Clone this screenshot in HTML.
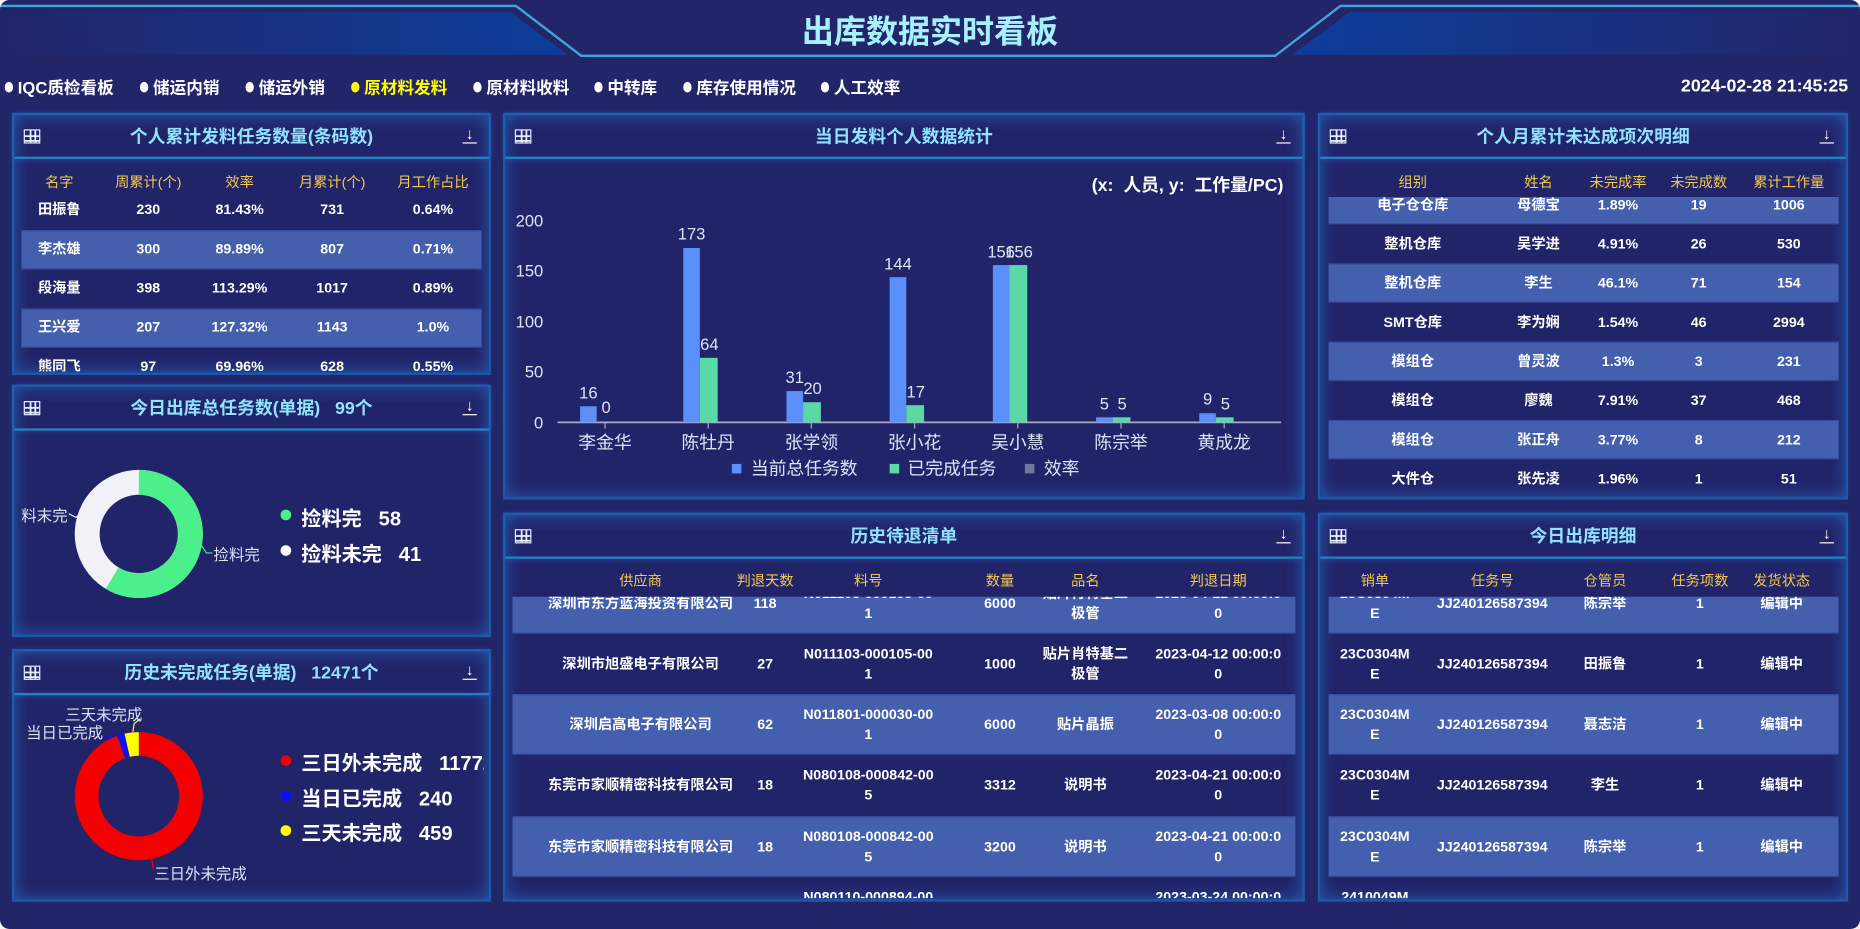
<!DOCTYPE html>
<html><head><meta charset="utf-8">
<style>
*{margin:0;padding:0;box-sizing:border-box}
html,body{width:1860px;height:929px;overflow:hidden;background:#f4f4f8}
body{font-family:"Liberation Sans","Noto Sans CJK SC",sans-serif}
#s{position:absolute;left:0;top:0;width:1568px;height:783px;transform:scale(1.18622,1.1865);transform-origin:0 0;background:#232569;border-radius:8px;overflow:hidden}
.a{position:absolute}
.p{position:absolute;border:2px solid #1b5aa8;box-shadow:inset 0 0 14px rgba(40,140,235,.55);background:#222469}
.ph{position:absolute;left:0;right:0;top:0;height:37px;border-bottom:2px solid #2380c4;box-shadow:0 0 6px rgba(40,140,235,.4);color:#8fe3ff;font-size:15px;font-weight:bold;text-align:center;line-height:37px}
.gi{position:absolute;left:8px;top:12px;width:14px;height:12px;border:1.5px solid #e8f0ff;background:linear-gradient(#e8f0ff,#e8f0ff) 0 4px/100% 1.5px no-repeat,linear-gradient(#e8f0ff,#e8f0ff) 0 7.5px/100% 1.5px no-repeat,linear-gradient(#e8f0ff,#e8f0ff) 4px 0/1.5px 100% no-repeat,linear-gradient(#e8f0ff,#e8f0ff) 8px 0/1.5px 100% no-repeat}
.dl{position:absolute;right:10px;top:10px;width:12px;height:14px;color:#fff;font-size:13px;line-height:12px;text-align:center;border-bottom:1.5px solid #fff}
.c{position:absolute;transform:translate(-50%,-50%);text-align:center;white-space:nowrap;color:#fff;font-weight:bold;font-size:12px;line-height:17px}
.y{color:#f2c94c;font-weight:normal}
.st{position:absolute;background:#445fad;border-top:1px solid #3a4b9c;border-bottom:1px solid #3a4b9c}
.nav{position:absolute;top:64px;color:#fff;font-size:14px;font-weight:bold;white-space:nowrap}
.nav b{display:inline-block;width:7px;height:9px;border-radius:50%;background:#fff;margin-right:4px;vertical-align:1px}
.t{position:absolute;color:#dde3f5;font-size:14px;white-space:nowrap}
</style></head><body>
<div id="s">
<svg class="a" style="left:0;top:0" width="1568" height="60">
<defs>
<linearGradient id="g1" x1="0" x2="1"><stop offset="0" stop-color="#232569"/><stop offset="1" stop-color="#0c3e9a"/></linearGradient>
<linearGradient id="g2" x1="1" x2="0"><stop offset="0" stop-color="#232569"/><stop offset="1" stop-color="#0c3e9a"/></linearGradient>
</defs>
<polygon points="0,10 430,10 478,46 0,46" fill="url(#g1)"/>
<polygon points="1568,10 1138,10 1090,46 1568,46" fill="url(#g2)"/>
<polyline points="0,5 435,5 490,47 1075,47 1130,5 1568,5" fill="none" stroke="#3fa6d8" stroke-width="2"/>
</svg>
<div class="a" style="left:0;width:1568px;top:8px;text-align:center;color:#a6f0ff;font-size:27px;font-weight:bold;line-height:38px">出库数据实时看板</div>
<div class="nav" style="left:4px"><b></b>IQC质检看板</div>
<div class="nav" style="left:118px"><b></b>储运内销</div>
<div class="nav" style="left:207px"><b></b>储运外销</div>
<div class="nav" style="left:296px;color:#ffff00"><b style="background:#ff0"></b>原材料发料</div>
<div class="nav" style="left:399px"><b></b>原材料收料</div>
<div class="nav" style="left:501px"><b></b>中转库</div>
<div class="nav" style="left:576px"><b></b>库存使用情况</div>
<div class="nav" style="left:692px"><b></b>人工效率</div>
<div class="nav" style="right:10px;font-size:15px">2024-02-28 21:45:25</div>

<div class="p" style="left:10px;top:95px;width:404px;height:221px"><div class="ph">个人累计发料任务数量(条码数)</div><div class="gi"></div><div class="dl">↓</div></div>
<div class="a" style="left:0;top:0;width:1568px;height:783px;clip-path:inset(140px 1150px 470px 18px)">
<div class="c y" style="left:50px;top:154px">名字</div><div class="c y" style="left:125px;top:154px">周累计(个)</div><div class="c y" style="left:202px;top:154px">效率</div><div class="c y" style="left:280px;top:154px">月累计(个)</div><div class="c y" style="left:365px;top:154px">月工作占比</div>
<div class="st" style="left:18px;width:388px;top:194px;height:33px"></div>
<div class="st" style="left:18px;width:388px;top:260px;height:33px"></div>
<div class="c" style="left:50px;top:177px">田振鲁</div><div class="c" style="left:125px;top:177px">230</div><div class="c" style="left:202px;top:177px">81.43%</div><div class="c" style="left:280px;top:177px">731</div><div class="c" style="left:365px;top:177px">0.64%</div>
<div class="c" style="left:50px;top:210px">李杰雄</div><div class="c" style="left:125px;top:210px">300</div><div class="c" style="left:202px;top:210px">89.89%</div><div class="c" style="left:280px;top:210px">807</div><div class="c" style="left:365px;top:210px">0.71%</div>
<div class="c" style="left:50px;top:243px">段海量</div><div class="c" style="left:125px;top:243px">398</div><div class="c" style="left:202px;top:243px">113.29%</div><div class="c" style="left:280px;top:243px">1017</div><div class="c" style="left:365px;top:243px">0.89%</div>
<div class="c" style="left:50px;top:276px">王兴爱</div><div class="c" style="left:125px;top:276px">207</div><div class="c" style="left:202px;top:276px">127.32%</div><div class="c" style="left:280px;top:276px">1143</div><div class="c" style="left:365px;top:276px">1.0%</div>
<div class="c" style="left:50px;top:309px">熊同飞</div><div class="c" style="left:125px;top:309px">97</div><div class="c" style="left:202px;top:309px">69.96%</div><div class="c" style="left:280px;top:309px">628</div><div class="c" style="left:365px;top:309px">0.55%</div>
</div>

<div class="p" style="left:10px;top:324px;width:404px;height:213px"><div class="ph">今日出库总任务数(单据)&nbsp;&nbsp;&nbsp;99个</div><div class="gi"></div><div class="dl">↓</div></div>
<div class="p" style="left:10px;top:547px;width:404px;height:213px"><div class="ph">历史未完成任务(单据)&nbsp;&nbsp;&nbsp;12471个</div><div class="gi"></div><div class="dl">↓</div></div>
<svg class="a" style="left:0;top:0" width="420" height="783">
<g transform="translate(117,450) rotate(-90)">
<circle r="43.5" fill="none" stroke="#f1f1f8" stroke-width="21"/>
<circle r="43.5" fill="none" stroke="#4cf08a" stroke-width="21" stroke-dasharray="160.1 300"/>
</g>
<polyline points="58,433 64,436 68,433" fill="none" stroke="#f1f1f8" stroke-width="1"/>
<polyline points="170,460 174,466 179,466" fill="none" stroke="#4cf08a" stroke-width="1"/>
<g transform="translate(117,671) rotate(-90)">
<circle r="44" fill="none" stroke="#f50000" stroke-width="20" stroke-dasharray="261 300"/>
<circle r="44" fill="none" stroke="#0a10f0" stroke-width="20" stroke-dasharray="0 261 5.3 300"/>
<circle r="44" fill="none" stroke="#ffff00" stroke-width="20" stroke-dasharray="0 266.3 10.2 300"/>
</g>
<polyline points="86,622 96,620 104,616" fill="none" stroke="#0a10f0" stroke-width="1"/>
<polyline points="112,617 113,610 118,606" fill="none" stroke="#ffff00" stroke-width="1"/>
<polyline points="128,723 129,732" fill="none" stroke="#f50000" stroke-width="1"/>
<circle cx="241" cy="434" r="4.5" fill="#4cf08a"/><circle cx="241" cy="464" r="4.5" fill="#fff"/>
<circle cx="241" cy="641" r="4.5" fill="#f50000"/><circle cx="241" cy="671" r="4.5" fill="#0a10f0"/><circle cx="241" cy="700" r="4.5" fill="#ffff00"/>
</svg>
<div class="t" style="left:18px;top:424px;font-size:13px">料末完</div>
<div class="t" style="left:180px;top:457px;font-size:13px">捡料完</div>
<div class="t" style="left:254px;top:423px;font-size:17px;font-weight:bold;color:#fff">捡料完&nbsp;&nbsp;&nbsp;58</div>
<div class="t" style="left:254px;top:453px;font-size:17px;font-weight:bold;color:#fff">捡料未完&nbsp;&nbsp;&nbsp;41</div>
<div class="t" style="left:55px;top:592px;font-size:13px">三天未完成</div>
<div class="t" style="left:22px;top:607px;font-size:13px">当日已完成</div>
<div class="t" style="left:130px;top:726px;font-size:13px">三日外未完成</div>
<div class="a" style="left:0;top:0;width:1568px;height:783px;clip-path:inset(0 1160px 0 0)">
<div class="t" style="left:254px;top:629px;font-size:17px;font-weight:bold;color:#fff">三日外未完成&nbsp;&nbsp;&nbsp;11772</div>
</div>
<div class="t" style="left:254px;top:659px;font-size:17px;font-weight:bold;color:#fff">当日已完成&nbsp;&nbsp;&nbsp;240</div>
<div class="t" style="left:254px;top:688px;font-size:17px;font-weight:bold;color:#fff">三天未完成&nbsp;&nbsp;&nbsp;459</div>

<div class="p" style="left:424px;top:95px;width:676px;height:326px"><div class="ph">当日发料个人数据统计</div><div class="gi"></div><div class="dl">↓</div></div>
<div class="t" style="right:486px;top:145px;font-size:15px;font-weight:bold;color:#fff">(x:&nbsp;&nbsp;人员, y:&nbsp;&nbsp;工作量/PC)</div>
<svg class="a" style="left:0;top:0" width="1100" height="420" font-family="Liberation Sans,Noto Sans CJK SC,sans-serif">
<g fill="#dde3f5" font-size="14" text-anchor="end">
<text x="458" y="191">200</text><text x="458" y="233">150</text><text x="458" y="276">100</text><text x="458" y="318">50</text><text x="458" y="361">0</text>
</g>
<line x1="470" y1="356" x2="1080" y2="356" stroke="#a8adc4" stroke-width="1.5"/>
<g stroke="#a8adc4"><line x1="510" y1="356" x2="510" y2="361"/><line x1="597" y1="356" x2="597" y2="361"/><line x1="684" y1="356" x2="684" y2="361"/><line x1="771" y1="356" x2="771" y2="361"/><line x1="858" y1="356" x2="858" y2="361"/><line x1="945" y1="356" x2="945" y2="361"/><line x1="1032" y1="356" x2="1032" y2="361"/></g>
<g fill="#5b8ff9">
<rect x="489" y="342.4" width="14" height="13.6"/><rect x="576" y="209" width="14" height="147"/><rect x="663" y="329.6" width="14" height="26.4"/><rect x="750" y="233.6" width="14" height="122.4"/><rect x="837" y="223.4" width="14" height="132.6"/><rect x="924" y="351.7" width="14" height="4.3"/><rect x="1011" y="348.3" width="14" height="7.7"/>
</g>
<g fill="#5ad8a6">
<rect x="590" y="301.6" width="15" height="54.4"/><rect x="677" y="339" width="15" height="17"/><rect x="764" y="341.5" width="15" height="14.5"/><rect x="851" y="223.4" width="15" height="132.6"/><rect x="938" y="351.7" width="15" height="4.3"/><rect x="1025" y="351.7" width="15" height="4.3"/>
</g>
<g fill="#dde3f5" font-size="14" text-anchor="middle">
<text x="496" y="336">16</text><text x="511" y="348">0</text>
<text x="583" y="202">173</text><text x="598" y="295">64</text>
<text x="670" y="323">31</text><text x="685" y="332">20</text>
<text x="757" y="227">144</text><text x="772" y="335">17</text>
<text x="844" y="217">156</text><text x="859" y="217">156</text>
<text x="931" y="345">5</text><text x="946" y="345">5</text>
<text x="1018" y="341">9</text><text x="1033" y="345">5</text>
</g>
<g fill="#dde3f5" font-size="15" text-anchor="middle">
<text x="510" y="378">李金华</text><text x="597" y="378">陈牡丹</text><text x="684" y="378">张学领</text><text x="771" y="378">张小花</text><text x="858" y="378">吴小慧</text><text x="945" y="378">陈宗举</text><text x="1032" y="378">黄成龙</text>
</g>
<rect x="617" y="391" width="8" height="8" fill="#5b8ff9"/><text x="633" y="400" fill="#dde3f5" font-size="15">当前总任务数</text>
<rect x="750" y="391" width="8" height="8" fill="#5ad8a6"/><text x="765" y="400" fill="#dde3f5" font-size="15">已完成任务</text>
<rect x="864" y="391" width="8" height="8" fill="#6e7a9a"/><text x="880" y="400" fill="#dde3f5" font-size="15">效率</text>
</svg>

<div class="p" style="left:1111px;top:95px;width:447px;height:326px"><div class="ph">个人月累计未达成项次明细</div><div class="gi"></div><div class="dl">↓</div></div>
<div class="c y" style="left:1191px;top:154px">组别</div><div class="c y" style="left:1297px;top:154px">姓名</div><div class="c y" style="left:1364px;top:154px">未完成率</div><div class="c y" style="left:1432px;top:154px">未完成数</div><div class="c y" style="left:1508px;top:154px">累计工作量</div>
<div class="a" style="left:0;top:0;width:1568px;height:783px;clip-path:inset(166px 0 366px 1111px)">
<div class="st" style="left:1120px;width:430px;top:156px;height:33px"></div>
<div class="st" style="left:1120px;width:430px;top:222px;height:33px"></div>
<div class="st" style="left:1120px;width:430px;top:288px;height:33px"></div>
<div class="st" style="left:1120px;width:430px;top:354px;height:33px"></div>
<div class="c" style="left:1191px;top:173px">电子仓仓库</div><div class="c" style="left:1297px;top:173px">母德宝</div><div class="c" style="left:1364px;top:173px">1.89%</div><div class="c" style="left:1432px;top:173px">19</div><div class="c" style="left:1508px;top:173px">1006</div>
<div class="c" style="left:1191px;top:206px">整机仓库</div><div class="c" style="left:1297px;top:206px">吴学进</div><div class="c" style="left:1364px;top:206px">4.91%</div><div class="c" style="left:1432px;top:206px">26</div><div class="c" style="left:1508px;top:206px">530</div>
<div class="c" style="left:1191px;top:239px">整机仓库</div><div class="c" style="left:1297px;top:239px">李生</div><div class="c" style="left:1364px;top:239px">46.1%</div><div class="c" style="left:1432px;top:239px">71</div><div class="c" style="left:1508px;top:239px">154</div>
<div class="c" style="left:1191px;top:272px">SMT仓库</div><div class="c" style="left:1297px;top:272px">李为娴</div><div class="c" style="left:1364px;top:272px">1.54%</div><div class="c" style="left:1432px;top:272px">46</div><div class="c" style="left:1508px;top:272px">2994</div>
<div class="c" style="left:1191px;top:305px">模组仓</div><div class="c" style="left:1297px;top:305px">曾灵波</div><div class="c" style="left:1364px;top:305px">1.3%</div><div class="c" style="left:1432px;top:305px">3</div><div class="c" style="left:1508px;top:305px">231</div>
<div class="c" style="left:1191px;top:338px">模组仓</div><div class="c" style="left:1297px;top:338px">廖魏</div><div class="c" style="left:1364px;top:338px">7.91%</div><div class="c" style="left:1432px;top:338px">37</div><div class="c" style="left:1508px;top:338px">468</div>
<div class="c" style="left:1191px;top:371px">模组仓</div><div class="c" style="left:1297px;top:371px">张正舟</div><div class="c" style="left:1364px;top:371px">3.77%</div><div class="c" style="left:1432px;top:371px">8</div><div class="c" style="left:1508px;top:371px">212</div>
<div class="c" style="left:1191px;top:404px">大件仓</div><div class="c" style="left:1297px;top:404px">张先凌</div><div class="c" style="left:1364px;top:404px">1.96%</div><div class="c" style="left:1432px;top:404px">1</div><div class="c" style="left:1508px;top:404px">51</div>
</div>

<div class="p" style="left:424px;top:432px;width:676px;height:328px"><div class="ph">历史待退清单</div><div class="gi"></div><div class="dl">↓</div></div>
<div class="c y" style="left:540px;top:490px">供应商</div><div class="c y" style="left:645px;top:490px">判退天数</div><div class="c y" style="left:732px;top:490px">料号</div><div class="c y" style="left:843px;top:490px">数量</div><div class="c y" style="left:915px;top:490px">品名</div><div class="c y" style="left:1027px;top:490px">判退日期</div>
<div class="a" style="left:0;top:0;width:1568px;height:783px;clip-path:inset(503px 470px 26px 432px)">
<div class="st" style="left:432px;width:660px;top:483px;height:51px"></div>
<div class="st" style="left:432px;width:660px;top:585px;height:51px"></div>
<div class="st" style="left:432px;width:660px;top:688px;height:51px"></div>
<div class="c" style="left:540px;top:509px">深圳市东方蓝海投资有限公司</div><div class="c" style="left:645px;top:509px">118</div><div class="c" style="left:732px;top:509px">N011103-000105-00<br>1</div><div class="c" style="left:843px;top:509px">6000</div><div class="c" style="left:915px;top:509px">贴片肖特基二<br>极管</div><div class="c" style="left:1027px;top:509px">2023-04-12 00:00:0<br>0</div>
<div class="c" style="left:540px;top:560px">深圳市旭盛电子有限公司</div><div class="c" style="left:645px;top:560px">27</div><div class="c" style="left:732px;top:560px">N011103-000105-00<br>1</div><div class="c" style="left:843px;top:560px">1000</div><div class="c" style="left:915px;top:560px">贴片肖特基二<br>极管</div><div class="c" style="left:1027px;top:560px">2023-04-12 00:00:0<br>0</div>
<div class="c" style="left:540px;top:611px">深圳启高电子有限公司</div><div class="c" style="left:645px;top:611px">62</div><div class="c" style="left:732px;top:611px">N011801-000030-00<br>1</div><div class="c" style="left:843px;top:611px">6000</div><div class="c" style="left:915px;top:611px">贴片晶振</div><div class="c" style="left:1027px;top:611px">2023-03-08 00:00:0<br>0</div>
<div class="c" style="left:540px;top:662px">东莞市家顺精密科技有限公司</div><div class="c" style="left:645px;top:662px">18</div><div class="c" style="left:732px;top:662px">N080108-000842-00<br>5</div><div class="c" style="left:843px;top:662px">3312</div><div class="c" style="left:915px;top:662px">说明书</div><div class="c" style="left:1027px;top:662px">2023-04-21 00:00:0<br>0</div>
<div class="c" style="left:540px;top:714px">东莞市家顺精密科技有限公司</div><div class="c" style="left:645px;top:714px">18</div><div class="c" style="left:732px;top:714px">N080108-000842-00<br>5</div><div class="c" style="left:843px;top:714px">3200</div><div class="c" style="left:915px;top:714px">说明书</div><div class="c" style="left:1027px;top:714px">2023-04-21 00:00:0<br>0</div>
<div class="c" style="left:540px;top:765px">东莞市家顺精密科技有限公司</div><div class="c" style="left:645px;top:765px">18</div><div class="c" style="left:732px;top:765px">N080110-000894-00<br>1</div><div class="c" style="left:843px;top:765px">3000</div><div class="c" style="left:915px;top:765px">说明书</div><div class="c" style="left:1027px;top:765px">2023-03-24 00:00:0<br>0</div>
</div>

<div class="p" style="left:1111px;top:432px;width:447px;height:328px"><div class="ph">今日出库明细</div><div class="gi"></div><div class="dl">↓</div></div>
<div class="c y" style="left:1159px;top:490px">销单</div><div class="c y" style="left:1258px;top:490px">任务号</div><div class="c y" style="left:1353px;top:490px">仓管员</div><div class="c y" style="left:1433px;top:490px">任务项数</div><div class="c y" style="left:1502px;top:490px">发货状态</div>
<div class="a" style="left:0;top:0;width:1568px;height:783px;clip-path:inset(503px 18px 26px 1120px)">
<div class="st" style="left:1120px;width:430px;top:483px;height:51px"></div>
<div class="st" style="left:1120px;width:430px;top:585px;height:51px"></div>
<div class="st" style="left:1120px;width:430px;top:688px;height:51px"></div>
<div class="c" style="left:1159px;top:509px">23C0304M<br>E</div><div class="c" style="left:1258px;top:509px">JJ240126587394</div><div class="c" style="left:1353px;top:509px">陈宗举</div><div class="c" style="left:1433px;top:509px">1</div><div class="c" style="left:1502px;top:509px">编辑中</div>
<div class="c" style="left:1159px;top:560px">23C0304M<br>E</div><div class="c" style="left:1258px;top:560px">JJ240126587394</div><div class="c" style="left:1353px;top:560px">田振鲁</div><div class="c" style="left:1433px;top:560px">1</div><div class="c" style="left:1502px;top:560px">编辑中</div>
<div class="c" style="left:1159px;top:611px">23C0304M<br>E</div><div class="c" style="left:1258px;top:611px">JJ240126587394</div><div class="c" style="left:1353px;top:611px">聂志洁</div><div class="c" style="left:1433px;top:611px">1</div><div class="c" style="left:1502px;top:611px">编辑中</div>
<div class="c" style="left:1159px;top:662px">23C0304M<br>E</div><div class="c" style="left:1258px;top:662px">JJ240126587394</div><div class="c" style="left:1353px;top:662px">李生</div><div class="c" style="left:1433px;top:662px">1</div><div class="c" style="left:1502px;top:662px">编辑中</div>
<div class="c" style="left:1159px;top:714px">23C0304M<br>E</div><div class="c" style="left:1258px;top:714px">JJ240126587394</div><div class="c" style="left:1353px;top:714px">陈宗举</div><div class="c" style="left:1433px;top:714px">1</div><div class="c" style="left:1502px;top:714px">编辑中</div>
<div class="c" style="left:1159px;top:765px">2410049M<br>E</div><div class="c" style="left:1258px;top:765px">JJ240126587394</div><div class="c" style="left:1353px;top:765px">李生</div><div class="c" style="left:1433px;top:765px">1</div><div class="c" style="left:1502px;top:765px">编辑中</div>
</div>
</div>
</body></html>
